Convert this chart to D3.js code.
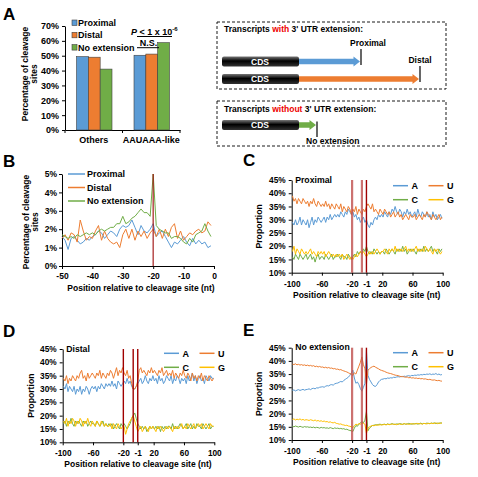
<!DOCTYPE html>
<html>
<head>
<meta charset="utf-8">
<script src="https://cdn.jsdelivr.net/npm/d3@7"></script>
<style>
  body { margin: 0; background: #fff; }
  svg { display: block; font-family: "Liberation Sans", Arial, sans-serif; font-weight: bold; }
</style>
</head>
<body>
<svg id="fig" width="478" height="477"></svg>
<script>
// ---- panel A: share of cleavage sites by signal type
var groups = ["Others", "AAUAAA-like"];
var siteTypes = ["Proximal", "Distal", "No extension"];
var othersPct = [49.4, 49.0, 41.0];
var aauaaaPct = [50.3, 51.1, 58.8];
var pctTicksA = [0, 10, 20, 30, 40, 50, 60, 70];

// ---- panel B: cleavage site share by position (-50..-1)
var bPos = d3.range(-50, 0);
var bTicks = [-50, -40, -30, -20, -10, 0];
var bPctTicks = [0, 1, 2, 3, 4, 5];
var bProximal = [1.6,1.4,0.9,1.5,1.6,1.4,1.2,1.3,1.5,1.4,
  1.6,1.7,1.9,1.8,1.5,1.7,1.9,1.8,1.6,2.0,
  2.2,2.1,2.2,2.5,2.1,1.7,2.2,1.9,1.8,2.0,
  2.3,1.6,1.8,1.9,1.6,1.3,1.0,1.3,1.2,1.4,
  1.6,1.3,1.1,1.5,1.2,1.4,1.2,1.3,1.0,1.1];
var bDistal = [1.5,1.7,1.4,1.8,1.7,1.3,2.5,1.9,1.4,1.6,
  1.5,1.9,2.2,1.4,1.9,1.5,1.3,1.2,1.3,1.0,
  1.7,2.0,1.5,2.0,1.4,1.9,1.6,1.9,1.5,1.8,
  2.0,1.6,2.0,1.5,2.0,1.6,2.1,2.3,1.5,1.9,
  1.4,1.6,1.8,1.7,1.9,2.0,1.8,1.9,2.4,2.2];
var bNoExt = [1.7,1.6,1.5,1.6,1.5,1.7,1.6,1.7,1.8,1.7,
  1.8,1.7,1.9,2.0,1.9,2.0,2.1,2.1,2.3,2.3,
  2.7,2.3,2.4,2.6,2.7,2.9,3.1,2.9,2.9,2.7,
  5.0,2.2,2.0,1.9,1.8,1.8,1.5,1.6,1.6,1.5,
  1.3,1.2,1.5,1.3,1.7,1.8,1.9,2.3,1.9,1.6];

// ---- panels C-E: nucleotide proportion (%) at odd positions -99..99
var ntPos = d3.range(-99, 100, 2);
var ntTicks = [-100, -60, -20, -1, 20, 60, 100];
var propTicks = [10, 15, 20, 25, 30, 35, 40, 45];
var markers = [-20, -7, -1];

var proxA = [29,28,30,28,29,31,28,30,29,28, 30,27,29,31,28,30,29,31,30,29,
  30,31,29,31,30,32,30,31,32,31, 32,31,33,32,31,33,32,34,33,32,
  33,31,32,30,31,29,30,31,29,30, 28,27,29,28,30,31,30,32,31,32,
  31,33,32,31,33,32,34,33,35,33, 32,34,33,31,33,32,34,32,33,31,
  32,33,31,34,32,31,33,32,31,33, 31,32,30,33,31,32,30,31,32,30.5];
var proxU = [39,37,38,36,38,37,36,38,37,36, 37,35,37,36,38,36,35,37,36,35,
  36,35,37,35,36,34,36,35,34,36, 35,34,36,33,35,34,33,35,34,32,
  34,33,35,32,34,33,32,34,33,35, 36,35,34,36,33,34,33,32,34,33,
  32,34,33,32,33,31,32,33,31,32, 33,31,32,30,31,32,31,30,32,31,
  31,32,30,31,32,31,30,32,31,33, 32,31,30,32,31,30,31,32,30,31];
var proxC = [16,15,17,16,15,17,16,15,16,17, 15,16,17,15,16,14,16,17,15,16,
  16,15,17,16,15,16,17,15,16,16, 17,16,15,17,16,16,15,17,16,15,
  16,17,16,18,17,18,17,19,18,20, 18,17,18,17,19,18,17,18,17,18,
  18,17,19,18,17,18,19,18,17,19, 18,19,18,20,18,19,17,18,19,18,
  19,18,17,19,18,19,18,20,18,19, 18,19,20,18,19,18,17,19,18,19];
var proxG = [18,20,17,19,18,17,19,18,17,18, 17,18,19,17,18,17,16,18,17,18,
  17,18,16,17,18,17,16,17,16,17, 16,17,16,17,15,16,17,16,15,16,
  15,16,17,16,17,18,17,18,17,16, 17,18,17,18,17,18,19,18,17,18,
  18,19,18,17,19,18,19,18,20,18, 19,18,19,18,19,20,18,19,18,19,
  18,19,20,18,19,18,19,18,20,19, 18,19,18,17,19,18,19,18,17,18];

var distA = [31,30,32,29,31,30,29,31,28,30, 29,31,28,30,29,31,30,28,30,31,
  30,31,29,31,30,32,31,30,32,31, 32,31,33,31,32,30,33,32,31,32,
  33,32,34,32,33,31,30,30,31,32, 33,34,32,33,35,33,32,34,33,35,
  33,34,32,35,33,34,32,33,35,34, 33,35,32,34,33,35,34,32,34,33,
  34,32,35,33,34,36,33,35,32,34, 35,33,34,32,35,34,33,35,34,34];
var distU = [34,33,35,32,34,33,35,34,33,35, 34,36,37,34,35,33,36,34,35,36,
  35,34,36,35,37,34,36,35,34,36, 35,37,36,34,36,38,35,37,36,38,
  36,35,37,34,35,32,30,30,31,33, 37,38,36,37,36,35,37,36,38,36,
  37,36,35,37,36,38,35,36,37,35, 36,35,37,34,36,35,34,36,35,37,
  35,34,36,35,33,36,34,35,33,35, 34,36,33,35,34,33,35,34,33,34];
var distC = [17,18,16,18,17,19,17,16,18,17, 18,17,16,18,17,18,16,17,18,17,
  17,16,18,17,16,17,18,16,17,16, 17,16,17,15,16,17,16,15,17,16,
  17,16,15,16,17,19,20,21,19,17, 16,15,16,15,16,14,15,16,15,16,
  15,16,15,16,14,16,15,16,15,16, 16,15,17,15,16,15,16,17,16,15,
  16,17,15,16,17,15,16,15,17,16, 16,15,17,16,15,16,17,15,16,16];
var distG = [18,17,19,16,18,17,19,18,16,18, 17,19,18,16,18,17,19,17,16,18,
  17,16,18,17,16,18,17,16,17,16, 16,17,15,17,16,15,17,16,15,16,
  16,13,15,17,18,19,20,18,16,14, 15,16,14,15,16,15,14,16,15,16,
  15,14,16,15,16,15,14,15,16,15, 16,15,14,16,15,16,15,16,17,15,
  16,15,17,16,15,16,17,15,16,17, 16,17,15,16,17,16,15,17,16,16];

var noExtA = [28.8,29.0,28.6,28.9,29.1,28.8,29.0,29.2,28.9,29.1,
  29.2,29.4,29.1,29.5,29.6,29.4,29.8,29.7,30.0,30.1,
  30.2,30.0,30.4,30.6,30.5,30.9,31.0,30.8,31.3,31.5,
  31.6,31.9,32.2,32.0,32.6,33.0,33.4,33.8,34.5,35.5,
  36.5,33.5,31.5,32.0,31.0,29.5,28.5,30.0,31.5,44.0,
  34.5,33.0,32.0,31.0,30.5,30.3,31.0,32.0,32.6,33.0,
  33.1,33.3,33.2,33.5,33.4,33.6,33.5,33.8,33.7,33.9,
  34.0,33.9,34.1,34.0,34.2,34.1,34.3,34.4,34.2,34.5,
  34.4,34.6,34.5,34.7,34.6,34.8,34.7,34.9,34.8,35.0,
  34.9,35.1,34.8,35.0,34.9,35.2,34.8,35.0,34.7,34.8];
var noExtU = [38.8,38.6,38.9,38.5,38.7,38.4,38.6,38.3,38.5,38.2,
  38.4,38.1,38.3,38.0,38.2,37.8,38.0,37.7,37.9,37.6,
  37.7,37.4,37.6,37.3,37.5,37.2,37.3,37.0,37.1,36.8,
  36.9,36.6,36.7,36.4,36.2,36.0,35.8,35.5,35.2,35.0,
  34.5,35.5,35.0,36.5,38.0,39.5,41.5,38.5,37.0,31.0,
  36.5,37.0,37.5,37.8,38.0,37.6,37.3,37.0,36.6,36.4,
  36.2,36.0,35.7,35.5,35.3,35.2,35.0,34.8,34.6,34.5,
  34.4,34.2,34.0,34.1,33.9,33.8,33.9,33.6,33.7,33.5,
  33.6,33.4,33.5,33.3,33.4,33.2,33.3,33.1,33.2,33.0,
  32.9,33.0,32.8,32.7,32.8,32.6,32.5,32.6,32.4,32.3];
var noExtC = [15.2,15.0,15.3,15.1,14.9,15.2,15.0,14.8,15.1,14.9,
  15.0,14.8,14.9,14.7,14.9,14.6,14.8,14.7,14.5,14.8,
  14.6,14.7,14.5,14.6,14.4,14.7,14.5,14.3,14.6,14.4,
  14.5,14.3,14.4,14.2,14.3,14.0,14.1,13.8,13.6,13.5,
  13.2,14.5,15.5,15.2,16.0,16.5,17.0,16.5,17.5,20.8,
  13.5,14.5,15.0,15.5,15.6,15.8,15.7,15.9,16.0,15.8,
  15.9,16.0,15.8,16.1,15.9,16.0,16.2,16.0,15.9,16.1,
  16.0,16.2,16.1,15.9,16.2,16.0,16.1,16.3,16.1,16.0,
  16.2,16.1,16.3,16.0,16.2,16.4,16.1,16.3,16.2,16.4,
  16.3,16.2,16.4,16.3,16.5,16.2,16.4,16.3,16.5,16.4];
var noExtG = [17.8,18.0,17.6,17.9,17.7,18.0,17.6,17.8,17.5,17.7,
  17.6,17.4,17.7,17.5,17.3,17.6,17.2,17.4,17.1,17.3,
  17.0,17.2,16.9,17.0,16.7,16.9,16.6,16.5,16.7,16.3,
  16.2,16.0,16.1,15.8,15.7,15.5,15.6,15.3,15.2,15.0,
  14.6,15.5,16.0,15.8,16.2,16.0,16.5,16.3,16.0,12.5,
  14.5,15.0,15.3,15.5,15.4,15.6,15.7,15.6,15.8,15.7,
  15.8,15.9,15.7,16.0,15.8,15.9,16.1,15.9,16.0,15.8,
  16.0,16.1,15.9,16.0,16.2,16.0,16.1,15.9,16.1,16.2,
  16.0,16.2,16.1,16.3,16.1,16.2,16.0,16.3,16.2,16.1,
  16.3,16.2,16.4,16.2,16.3,16.5,16.2,16.4,16.3,16.5];

var BLUE = "#5b9bd5", ORANGE = "#ed7d31", GREEN = "#70ad47", YELLOW = "#ffc000";
var FONT = "'Liberation Sans', Arial, sans-serif";
var plain = function (d) { return String(d); };   // keep ASCII hyphen for negatives
var pct = function (d) { return d + "%"; };

var svg = d3.select("#fig");

var grad = svg.append("defs").append("linearGradient")
  .attr("id", "cdsGrad").attr("x1", 0).attr("y1", 0).attr("x2", 0).attr("y2", 1);
grad.append("stop").attr("offset", "0%").attr("stop-color", "#777");
grad.append("stop").attr("offset", "45%").attr("stop-color", "#000");
grad.append("stop").attr("offset", "100%").attr("stop-color", "#333");

function letter(t, x, y) {
  svg.append("text").attr("x", x).attr("y", y).attr("font-size", 17).text(t);
}

function fixAxis(g, size) {
  g.attr("font-family", FONT).attr("font-size", size).attr("font-weight", "bold");
  g.selectAll("text").attr("fill", "#000");
  g.selectAll("path, line").attr("stroke", "#000");
}

function yTitle(lines, x, y) {
  var t = svg.append("text")
    .attr("transform", "translate(" + x + "," + y + ") rotate(-90)")
    .attr("text-anchor", "middle").attr("font-size", 8.5);
  lines.forEach(function (l, i) {
    t.append("tspan").attr("x", 0).attr("y", i * 8.7).text(l);
  });
}

function xTitle(x, y) {
  svg.append("text").attr("x", x).attr("y", y).attr("text-anchor", "middle")
    .attr("font-size", 8.5).text("Position relative to cleavage site (nt)");
}

// ================= A: bar chart
letter("A", 3, 20);
var ya = d3.scaleLinear().domain([0, 70]).range([130, 26]);
var xa = d3.scaleBand().domain(groups).range([65, 180]);
var xs = d3.scaleBand().domain(siteTypes).range([11.5, 47]);
var barColor = d3.scaleOrdinal().domain(siteTypes).range([BLUE, ORANGE, GREEN]);

var gyA = svg.append("g").attr("transform", "translate(65,0)")
  .call(d3.axisLeft(ya).tickValues(pctTicksA).tickFormat(pct)
    .tickSize(3).tickPadding(3).tickSizeOuter(0));
fixAxis(gyA, 9);

var gxA = svg.append("g").attr("transform", "translate(0,130)")
  .call(d3.axisBottom(xa).tickSize(0).tickPadding(7).tickSizeOuter(0));
fixAxis(gxA, 9);
gxA.selectAll(".sep").data([65, 122.5, 180]).enter().append("line")
  .attr("x1", function (d) { return d; }).attr("x2", function (d) { return d; })
  .attr("y1", 0).attr("y2", 3).attr("stroke", "#000");

[othersPct, aauaaaPct].forEach(function (vals, gi) {
  svg.append("g").selectAll("rect").data(vals).enter().append("rect")
    .attr("x", function (d, i) { return xa(groups[gi]) + xs(siteTypes[i]); })
    .attr("y", function (d) { return ya(d); })
    .attr("width", xs.bandwidth())
    .attr("height", function (d) { return 130 - ya(d); })
    .attr("fill", function (d, i) { return barColor(siteTypes[i]); })
    .attr("stroke", "#404040").attr("stroke-width", 0.6);
});

yTitle(["Percentage of cleavage", "sites"], 28, 74);

var legA = svg.append("g").selectAll("g").data(siteTypes).enter().append("g")
  .attr("transform", function (d, i) { return "translate(72," + (26 + i * 12.3) + ")"; });
legA.append("rect").attr("x", 0).attr("y", -6).attr("width", 5).attr("height", 5.5)
  .attr("fill", function (d) { return barColor(d); }).attr("stroke", "#404040").attr("stroke-width", 0.6);
legA.append("text").attr("x", 6).attr("y", 0).attr("font-size", 9).text(function (d) { return d; });

// significance marks
var pTxt = svg.append("text").attr("x", 131).attr("y", 34.5).attr("font-size", 9);
pTxt.append("tspan").attr("font-style", "italic").text("P");
pTxt.append("tspan").text(" < 1 x 10");
pTxt.append("tspan").attr("font-size", 6).attr("dy", -4).text("-6");
svg.append("line").attr("x1", 137).attr("x2", 172).attr("y1", 36.5).attr("y2", 36.5).attr("stroke", "#000");
svg.append("text").attr("x", 148.5).attr("y", 46).attr("text-anchor", "middle").attr("font-size", 9).text("N.S.");
svg.append("line").attr("x1", 137).attr("x2", 159).attr("y1", 47.7).attr("y2", 47.7).attr("stroke", "#000");

// ================= A: transcript schematic
function dashedBox(y0, y1) {
  svg.append("rect").attr("x", 217).attr("y", y0).attr("width", 229).attr("height", y1 - y0)
    .attr("fill", "none").attr("stroke", "#000").attr("stroke-width", 0.9).attr("stroke-dasharray", "3,2");
}
dashedBox(22, 89);
dashedBox(101, 146);

function boxTitle(y, word) {
  var t = svg.append("text").attr("x", 224).attr("y", y).attr("font-size", 8.5);
  t.append("tspan").text("Transcripts ");
  t.append("tspan").attr("fill", "#e00").text(word);
  t.append("tspan").text(" 3' UTR extension:");
}
boxTitle(32, "with");
boxTitle(112, "without");

function transcript(cy, xEnd, color) {
  svg.append("rect").attr("x", 222).attr("y", cy - 5).attr("width", 77).attr("height", 10)
    .attr("rx", 2).attr("fill", "url(#cdsGrad)");
  svg.append("text").attr("x", 260).attr("y", cy + 3).attr("text-anchor", "middle")
    .attr("font-size", 8.5).attr("fill", "#fff").text("CDS");
  var head = 6.5;
  svg.append("path")
    .attr("d", "M299," + (cy - 2.8) + "H" + (xEnd - head) + "V" + (cy - 5) + "L" + xEnd + "," + cy +
      "L" + (xEnd - head) + "," + (cy + 5) + "V" + (cy + 2.8) + "H299Z")
    .attr("fill", color);
}
transcript(61.5, 360, BLUE);
transcript(79, 419, ORANGE);
transcript(125, 316, GREEN);

svg.append("line").attr("x1", 361).attr("x2", 361).attr("y1", 49).attr("y2", 65).attr("stroke", "#000").attr("stroke-width", 1.2);
svg.append("line").attr("x1", 420).attr("x2", 420).attr("y1", 66).attr("y2", 82).attr("stroke", "#000").attr("stroke-width", 1.2);
svg.append("line").attr("x1", 317).attr("x2", 317).attr("y1", 121.5).attr("y2", 137).attr("stroke", "#000").attr("stroke-width", 1.2);
svg.append("text").attr("x", 368).attr("y", 46).attr("text-anchor", "middle").attr("font-size", 8.5).text("Proximal");
svg.append("text").attr("x", 420).attr("y", 63).attr("text-anchor", "middle").attr("font-size", 8.5).text("Distal");
svg.append("text").attr("x", 306).attr("y", 144).attr("font-size", 8.5).text("No extension");

// ================= B: cleavage position profile
letter("B", 3, 167);
var xb = d3.scaleLinear().domain([-50, 0]).range([62, 214]);
var yb = d3.scaleLinear().domain([0, 5]).range([266, 174]);
var gxB = svg.append("g").attr("transform", "translate(0,266)")
  .call(d3.axisBottom(xb).tickValues(bTicks).tickFormat(plain).tickSize(3).tickPadding(4).tickSizeOuter(0));
fixAxis(gxB, 8.5);
var gyB = svg.append("g").attr("transform", "translate(62,0)")
  .call(d3.axisLeft(yb).tickValues(bPctTicks).tickFormat(pct)
    .tickSize(3).tickPadding(2).tickSizeOuter(0));
fixAxis(gyB, 8.5);

var bLine = d3.line().x(function (d, i) { return xb(bPos[i]); }).y(function (d) { return yb(d); });
var bSeries = [
  { name: "Proximal", values: bProximal, color: BLUE },
  { name: "Distal", values: bDistal, color: ORANGE },
  { name: "No extension", values: bNoExt, color: GREEN }
];
bSeries.forEach(function (s) {
  svg.append("path").datum(s.values).attr("d", bLine).attr("fill", "none")
    .attr("stroke", s.color).attr("stroke-width", 1);
});
svg.append("line").attr("x1", xb(-20)).attr("x2", xb(-20)).attr("y1", yb(0)).attr("y2", yb(5))
  .attr("stroke", "#a01010").attr("stroke-width", 1.5).attr("opacity", 0.75);

var legB = svg.append("g").selectAll("g").data(bSeries).enter().append("g")
  .attr("transform", function (d, i) { return "translate(68," + (177 + i * 13.5) + ")"; });
legB.append("line").attr("x1", 0).attr("x2", 17).attr("y1", -3).attr("y2", -3)
  .attr("stroke", function (d) { return d.color; }).attr("stroke-width", 1.5);
legB.append("text").attr("x", 19).attr("y", 0).attr("font-size", 9).text(function (d) { return d.name; });

yTitle(["Percentage of cleavage", "sites"], 29, 222);
xTitle(141, 290.5);

// ================= C-E: nucleotide composition panels
function ntPanel(o) {
  letter(o.letter, o.lx, o.ly);
  var x = d3.scaleLinear().domain([-100, 100]).range([o.left, o.right]);
  var y = d3.scaleLinear().domain([10, 45]).range([o.bottom, o.top]);

  var gx = svg.append("g").attr("transform", "translate(0," + o.bottom + ")")
    .call(d3.axisBottom(x).tickValues(ntTicks).tickFormat(plain).tickSize(3).tickPadding(5).tickSizeOuter(0));
  fixAxis(gx, 8.3);
  var gy = svg.append("g").attr("transform", "translate(" + o.left + ",0)")
    .call(d3.axisLeft(y).tickValues(propTicks).tickFormat(pct)
      .tickSize(3).tickPadding(3).tickSizeOuter(0));
  fixAxis(gy, 8.3);

  var line = d3.line().x(function (d, i) { return x(ntPos[i]); }).y(function (d) { return y(d); });
  o.series.forEach(function (s) {
    svg.append("path").datum(s.values).attr("d", line).attr("fill", "none")
      .attr("stroke", s.color).attr("stroke-width", 1);
  });

  markers.forEach(function (m, i) {
    var soft = o.soft && i < 2;
    svg.append("line").attr("x1", x(m)).attr("x2", x(m)).attr("y1", y(10)).attr("y2", y(45))
      .attr("stroke", soft ? "#c0504d" : "#a00000")
      .attr("stroke-width", soft ? 2.2 : 1.4)
      .attr("opacity", soft ? 0.8 : 1);
  });

  svg.append("text").attr("x", o.left + 3.5).attr("y", o.top + 2.5).attr("font-size", 8.7).text(o.title);

  var leg = svg.append("g").selectAll("g").data(o.series).enter().append("g")
    .attr("transform", function (d, i) {
      return "translate(" + (o.legX + (i % 2) * 35.5) + "," + (o.legY + Math.floor(i / 2) * 14) + ")";
    });
  leg.append("line").attr("x1", 0).attr("x2", 15).attr("y1", 0).attr("y2", 0)
    .attr("stroke", function (d) { return d.color; }).attr("stroke-width", 1.5);
  leg.append("text").attr("x", 18.5).attr("y", 3.3).attr("font-size", 9).text(function (d) { return d.name; });

  svg.append("text")
    .attr("transform", "translate(" + o.ytx + "," + ((o.top + o.bottom) / 2) + ") rotate(-90)")
    .attr("text-anchor", "middle").attr("font-size", 8.7).text("Proportion");
  xTitle((o.left + o.right) / 2 - 0.5, o.xty);
}

function nts(a, u, c, g) {
  return [
    { name: "A", values: a, color: BLUE },
    { name: "U", values: u, color: ORANGE },
    { name: "C", values: c, color: GREEN },
    { name: "G", values: g, color: YELLOW }
  ];
}

ntPanel({ letter: "C", lx: 243, ly: 166, left: 291.7, right: 442.7, top: 180, bottom: 272.7,
  title: "Proximal", soft: true, legX: 393, legY: 185.7, ytx: 262, xty: 297.5,
  series: nts(proxA, proxU, proxC, proxG) });

ntPanel({ letter: "D", lx: 3, ly: 337, left: 62.7, right: 214.3, top: 349, bottom: 442.3,
  title: "Distal", soft: false, legX: 164, legY: 353.3, ytx: 34, xty: 467,
  series: nts(distA, distU, distC, distG) });

ntPanel({ letter: "E", lx: 243, ly: 336, left: 291.7, right: 442.7, top: 347.7, bottom: 440,
  title: "No extension", soft: true, legX: 393, legY: 352.7, ytx: 262, xty: 465,
  series: nts(noExtA, noExtU, noExtC, noExtG) });
</script>
</body>
</html>
